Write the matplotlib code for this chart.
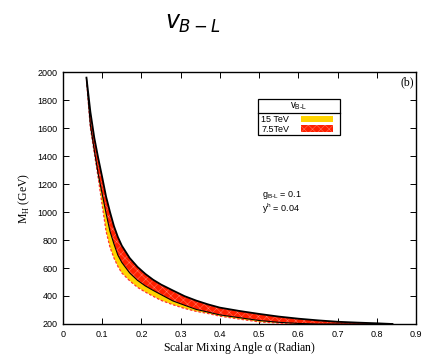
import matplotlib
matplotlib.use("Agg")
import matplotlib.pyplot as plt
from matplotlib.patches import Rectangle
import numpy as np

plt.rcParams['mathtext.fontset'] = 'dejavusans'
plt.rcParams['hatch.linewidth'] = 0.35

# mixing angle grid (radian)
alpha = [0.06, 0.07, 0.08, 0.09, 0.10, 0.11, 0.12, 0.13, 0.14, 0.15, 0.17, 0.19,
         0.21, 0.23, 0.25, 0.28, 0.31, 0.34, 0.37, 0.40, 0.45, 0.50, 0.55, 0.60,
         0.65, 0.70, 0.75, 0.80, 0.84]
# upper edge of 7.5 TeV band
m_upper = [1960, 1715, 1530, 1385, 1250, 1110, 1000, 900, 822, 760, 672, 608,
           558, 516, 482, 440, 399, 367, 340, 317, 293, 272, 253, 238,
           226, 216, 210, 205, 200]
# boundary between the bands
m_mid = [1955, 1620, 1440, 1270, 1130, 990, 862, 772, 692, 640, 565, 512,
         472, 440, 410, 365, 334, 304, 285, 265, 245, 225, 212, 204,
         200, 200, 200, 200, 200]
# lower edge of 15 TeV band
m_lower = [1940, 1600, 1420, 1242, 1050, 862, 748, 672, 612, 565, 509, 462,
           428, 398, 369, 338, 311, 290, 275, 256, 235, 215, 206, 200,
           200, 200, 200, 200, 200]

legend_title = r'v$_{\mathregular{B\text{-}L}}$'
labels = ['15 TeV', '7.5TeV']
yellow = '#FFD400'
red = '#FF2000'
hatch_col = '#FF7A66'

fig = plt.figure(figsize=(4.28, 3.61), dpi=100)
ax = fig.add_axes([0.147, 0.1025, 0.825, 0.698])

a = np.array(alpha)
ax.fill_between(a, m_lower, m_mid, facecolor=yellow, edgecolor='none', zorder=2)
ax.fill_between(a, m_mid, m_upper, facecolor=red, edgecolor=hatch_col,
                hatch='xxxx', linewidth=0, zorder=3)
ax.plot(a, m_upper, color='black', lw=1.3, zorder=5)
ax.plot(a, m_mid, color='black', lw=0.8, zorder=5)
ax.plot(a, m_lower, color='#FF3030', lw=0.9, ls=(0, (2, 1.5)), zorder=4)

ax.set_xlim(0, 0.9)
ax.set_ylim(200, 2000)
ax.set_xticks(np.arange(0, 0.91, 0.1))
ax.set_xticklabels(['0', '0.1', '0.2', '0.3', '0.4', '0.5', '0.6', '0.7', '0.8', '0.9'])
ax.set_yticks(np.arange(200, 2001, 200))
ax.tick_params(direction='in', top=True, right=True, length=4, width=0.7,
               labelsize=6.5, pad=4)
for lab in ax.get_xticklabels() + ax.get_yticklabels():
    lab.set_family('Liberation Sans')
for s in ax.spines.values():
    s.set_linewidth(1.0)

ax.set_xlabel(r'Scalar Mixing Angle $\mathregular{\alpha}$ (Radian)',
              family='Liberation Serif', fontsize=8.5, labelpad=1)
ax.set_ylabel(r'M$_\mathregular{H}$ (GeV)', family='Liberation Serif', fontsize=8.5, labelpad=4)

ax.text(0.995, 0.985, '(b)', transform=ax.transAxes, ha='right', va='top',
        family='Liberation Serif', fontsize=8.5)

ax.text(0.563, 0.49, r'g$_{\mathregular{B\text{-}L}}$ = 0.1', transform=ax.transAxes,
        family='Liberation Sans', fontsize=6.5, va='bottom')
ax.text(0.563, 0.43, r'y$^{\mathregular{h}}$ = 0.04', transform=ax.transAxes,
        family='Liberation Sans', fontsize=6.5, va='bottom')

# legend box
lx0, lx1, ly0, ly1 = 0.552, 0.785, 0.750, 0.893
ysep = 0.837
ax.add_patch(Rectangle((lx0, ly0), lx1 - lx0, ly1 - ly0, transform=ax.transAxes,
                       facecolor='white', edgecolor='black', lw=0.9, zorder=10))
ax.plot([lx0, lx1], [ysep, ysep], transform=ax.transAxes, color='black', lw=0.9, zorder=11)
ax.text((lx0 + lx1) / 2, (ysep + ly1) / 2, legend_title, transform=ax.transAxes,
        ha='center', va='center', family='Liberation Sans', fontsize=7, zorder=12)
ax.text(lx0 + 0.01, 0.812, labels[0], transform=ax.transAxes, ha='left', va='center',
        family='Liberation Sans', fontsize=6.5, zorder=12)
ax.text(lx0 + 0.01, 0.773, labels[1], transform=ax.transAxes, ha='left', va='center',
        family='Liberation Sans', fontsize=6.5, zorder=12)
ax.add_patch(Rectangle((0.674, 0.800), 0.09, 0.026, transform=ax.transAxes,
                       facecolor=yellow, edgecolor='none', zorder=12))
ax.add_patch(Rectangle((0.674, 0.762), 0.09, 0.026, transform=ax.transAxes,
                       facecolor=red, edgecolor=hatch_col, hatch='xxxx', lw=0, zorder=12))

fig.text(0.45, 0.935, r'$v_{B-L}$', ha='center', va='center', fontsize=17)

fig.savefig('out.png', dpi=100)
